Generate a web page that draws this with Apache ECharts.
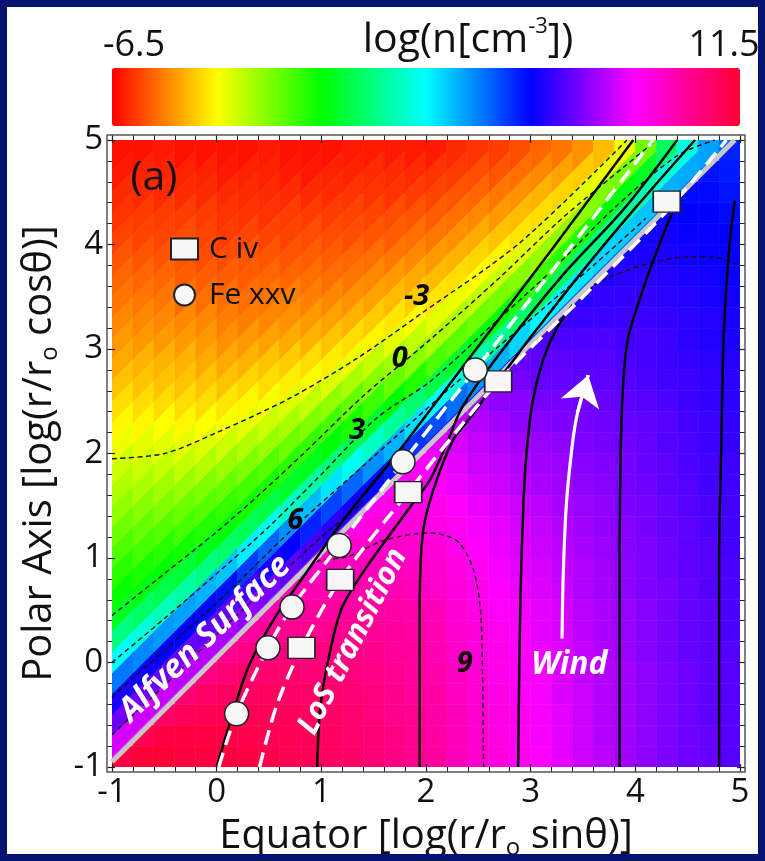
<!DOCTYPE html>
<html><head><meta charset="utf-8">
<script src="https://cdn.jsdelivr.net/npm/echarts/dist/echarts.min.js"></script>
<style>html,body{margin:0;padding:0;background:#fff}#c{width:765px;height:861px}</style>
</head><body><div id="c"></div><script>
// ---------- data ----------
const xCells = [-0.9,-0.7,-0.5,-0.3,-0.1,0.1,0.3,0.5,0.7,0.9,1.1,1.3,1.5,1.7,1.9,2.1,2.3,2.5,2.7,2.9,3.1,3.3,3.5,3.7,3.9,4.1,4.3,4.5,4.7,4.9];
const yCells = [-0.9,-0.7,-0.5,-0.3,-0.1,0.1,0.3,0.5,0.7,0.9,1.1,1.3,1.5,1.7,1.9,2.1,2.3,2.5,2.7,2.9,3.1,3.3,3.5,3.7,3.9,4.1,4.3,4.5,4.7,4.9];
// above the Alfven surface: column i holds cells from the diagonal upward
const upperField = [
 [8.5,8.0,6.8,5.8,4.1,2.4,1.0,-0.1,-0.6,-1.0,-1.4,-1.8,-2.2,-2.6,-2.9,-3.3,-3.6,-3.9,-4.2,-4.5,-4.7,-4.9,-5.1,-5.3,-5.5,-5.7,-5.9,-6.0,-6.2,-6.3],
 [8.4,7.9,6.8,5.7,3.9,2.1,0.7,-0.3,-0.8,-1.3,-1.7,-2.1,-2.5,-2.9,-3.2,-3.6,-3.9,-4.2,-4.4,-4.7,-4.9,-5.1,-5.3,-5.5,-5.7,-5.8,-6.0,-6.1,-6.3],
 [8.3,7.8,6.7,5.6,3.7,1.7,0.4,-0.5,-1.0,-1.5,-2.0,-2.4,-2.8,-3.2,-3.5,-3.9,-4.2,-4.4,-4.7,-4.9,-5.1,-5.3,-5.5,-5.7,-5.8,-6.0,-6.1,-6.2],
 [8.1,7.7,6.7,5.5,3.6,1.4,0.1,-0.7,-1.3,-1.8,-2.3,-2.8,-3.2,-3.6,-3.9,-4.2,-4.4,-4.7,-4.9,-5.2,-5.4,-5.5,-5.6,-5.8,-6.0,-6.1,-6.3],
 [8.0,7.6,6.6,5.4,3.4,1.0,-0.2,-0.9,-1.5,-2.0,-2.6,-3.1,-3.5,-3.9,-4.2,-4.5,-4.7,-4.9,-5.2,-5.4,-5.6,-5.7,-5.8,-6.0,-6.1,-6.3],
 [7.9,7.5,6.6,5.3,3.2,0.7,-0.5,-1.1,-1.7,-2.3,-2.9,-3.4,-3.8,-4.2,-4.5,-4.8,-5.0,-5.2,-5.4,-5.6,-5.8,-5.9,-6.0,-6.2,-6.3],
 [7.7,7.2,6.2,4.8,2.7,0.5,-0.7,-1.3,-2.0,-2.6,-3.2,-3.6,-4.0,-4.4,-4.7,-5.0,-5.2,-5.4,-5.5,-5.7,-5.9,-6.0,-6.1,-6.3],
 [7.6,6.9,5.8,4.3,2.3,0.3,-0.8,-1.5,-2.3,-2.9,-3.4,-3.9,-4.2,-4.6,-4.9,-5.1,-5.3,-5.5,-5.7,-5.9,-6.0,-6.1,-6.2],
 [7.4,6.6,5.5,3.8,1.8,0.0,-1.0,-1.8,-2.5,-3.1,-3.7,-4.1,-4.5,-4.8,-5.0,-5.3,-5.5,-5.7,-5.8,-6.0,-6.2,-6.3],
 [7.3,6.3,5.1,3.3,1.4,-0.2,-1.1,-2.0,-2.8,-3.4,-3.9,-4.4,-4.7,-5.0,-5.2,-5.4,-5.6,-5.8,-6.0,-6.2,-6.3],
 [7.1,6.0,4.7,2.8,0.9,-0.4,-1.3,-2.2,-3.1,-3.7,-4.2,-4.6,-4.9,-5.2,-5.4,-5.6,-5.8,-6.0,-6.1,-6.3],
 [6.9,5.7,4.3,2.3,0.4,-0.8,-1.7,-2.5,-3.3,-3.9,-4.4,-4.8,-5.1,-5.3,-5.6,-5.7,-5.9,-6.1,-6.2],
 [6.7,5.4,3.8,1.8,0.0,-1.2,-2.1,-2.8,-3.6,-4.1,-4.6,-4.9,-5.2,-5.5,-5.7,-5.9,-6.0,-6.2],
 [6.5,5.2,3.4,1.3,-0.5,-1.7,-2.4,-3.2,-3.8,-4.3,-4.7,-5.1,-5.4,-5.6,-5.9,-6.0,-6.2],
 [6.3,4.9,2.9,0.8,-0.9,-2.1,-2.8,-3.5,-4.1,-4.5,-4.9,-5.2,-5.5,-5.8,-6.0,-6.2],
 [6.1,4.6,2.5,0.3,-1.4,-2.5,-3.2,-3.8,-4.3,-4.7,-5.1,-5.4,-5.7,-5.9,-6.2],
 [5.9,4.2,2.1,0.0,-1.6,-2.6,-3.3,-3.9,-4.4,-4.8,-5.2,-5.5,-5.8,-6.0],
 [5.7,3.8,1.6,-0.3,-1.8,-2.8,-3.5,-4.0,-4.5,-4.9,-5.3,-5.6,-5.9],
 [5.4,3.4,1.2,-0.6,-1.9,-2.9,-3.6,-4.2,-4.7,-5.1,-5.5,-5.8],
 [5.2,3.0,0.7,-0.9,-2.1,-3.1,-3.8,-4.3,-4.8,-5.2,-5.6],
 [5.0,2.6,0.3,-1.2,-2.3,-3.2,-3.9,-4.4,-4.9,-5.3],
 [4.9,2.7,0.6,-1.0,-2.2,-3.2,-4.0,-4.6,-5.1],
 [4.8,2.8,0.8,-0.8,-2.1,-3.2,-4.1,-4.8],
 [4.7,3.0,1.1,-0.5,-2.0,-3.3,-4.3],
 [4.6,3.1,1.3,-0.3,-1.9,-3.3],
 [4.5,3.2,1.6,-0.1,-1.8],
 [4.4,3.4,2.0,0.6],
 [4.4,3.5,2.1],
 [4.3,3.6],
 [4.2]
];
// below the Alfven surface: column i holds cells from the bottom up to the diagonal
const lowerField = [
 [11.2],
 [11.4,11.0],
 [11.4,11.2,10.7],
 [11.3,11.2,10.9,10.5],
 [11.3,11.2,11.0,10.7,10.3],
 [11.3,11.2,11.0,10.8,10.5,10.1],
 [11.2,11.1,11.0,10.8,10.6,10.3,9.9],
 [11.1,11.0,10.9,10.8,10.6,10.3,10.0,9.7],
 [11.0,11.0,10.9,10.7,10.6,10.4,10.1,9.8,9.5],
 [10.9,10.9,10.8,10.7,10.5,10.4,10.1,9.9,9.6,9.3],
 [10.8,10.8,10.7,10.6,10.5,10.3,10.1,9.9,9.7,9.4,9.1],
 [10.7,10.6,10.6,10.5,10.4,10.3,10.1,9.9,9.7,9.5,9.2,8.9],
 [10.5,10.5,10.4,10.4,10.3,10.2,10.0,9.9,9.7,9.5,9.3,9.0,8.8],
 [10.3,10.3,10.2,10.2,10.1,10.0,9.9,9.8,9.6,9.5,9.3,9.1,8.9,8.6],
 [10.1,10.1,10.1,10.0,9.9,9.9,9.8,9.7,9.5,9.4,9.2,9.1,8.9,8.7,8.5],
 [9.9,9.8,9.8,9.8,9.7,9.6,9.6,9.5,9.3,9.2,9.1,8.9,8.8,8.6,8.4,8.2],
 [9.5,9.5,9.5,9.4,9.4,9.3,9.2,9.1,9.0,8.9,8.8,8.7,8.5,8.3,8.2,8.0,7.8],
 [9.2,9.2,9.2,9.1,9.1,9.0,9.0,8.9,8.8,8.7,8.5,8.4,8.3,8.1,7.9,7.8,7.6,7.4],
 [9.0,8.9,8.9,8.9,8.8,8.8,8.7,8.6,8.5,8.4,8.3,8.2,8.1,7.9,7.8,7.6,7.4,7.2,7.0],
 [8.7,8.7,8.7,8.6,8.6,8.5,8.5,8.4,8.3,8.2,8.1,8.0,7.9,7.7,7.6,7.4,7.2,7.1,6.9,6.7],
 [8.5,8.4,8.4,8.4,8.4,8.3,8.2,8.2,8.1,8.0,7.9,7.8,7.7,7.5,7.4,7.3,7.1,6.9,6.7,6.6,6.4],
 [8.2,8.2,8.2,8.1,8.1,8.1,8.0,8.0,7.9,7.8,7.7,7.6,7.5,7.4,7.3,7.2,7.0,6.9,6.7,6.6,6.4,6.2],
 [7.9,7.9,7.9,7.9,7.8,7.8,7.7,7.7,7.6,7.6,7.5,7.4,7.3,7.2,7.1,7.0,6.9,6.8,6.6,6.5,6.4,6.2,6.0],
 [7.7,7.6,7.6,7.6,7.6,7.6,7.5,7.5,7.4,7.4,7.3,7.2,7.2,7.1,7.0,6.9,6.8,6.7,6.6,6.5,6.4,6.2,6.1,5.9],
 [7.4,7.4,7.4,7.4,7.4,7.3,7.3,7.3,7.2,7.2,7.1,7.1,7.0,6.9,6.9,6.8,6.7,6.6,6.5,6.4,6.3,6.2,6.1,6.0,5.8],
 [7.2,7.2,7.2,7.2,7.2,7.1,7.1,7.1,7.0,7.0,7.0,6.9,6.9,6.8,6.7,6.7,6.6,6.5,6.4,6.3,6.3,6.2,6.1,6.0,5.8,5.7],
 [7.0,7.0,7.0,7.0,7.0,6.9,6.9,6.9,6.9,6.8,6.8,6.7,6.7,6.6,6.6,6.5,6.5,6.4,6.3,6.2,6.2,6.1,6.0,5.9,5.8,5.7,5.6],
 [6.8,6.8,6.8,6.8,6.8,6.7,6.7,6.7,6.7,6.6,6.6,6.6,6.5,6.5,6.4,6.4,6.3,6.2,6.2,6.1,6.0,6.0,5.9,5.8,5.7,5.6,5.5,5.4],
 [6.7,6.7,6.6,6.6,6.6,6.6,6.6,6.6,6.5,6.5,6.5,6.4,6.4,6.3,6.3,6.2,6.2,6.1,6.1,6.0,5.9,5.9,5.8,5.7,5.6,5.6,5.5,5.4,5.3],
 [6.5,6.5,6.5,6.5,6.5,6.5,6.4,6.4,6.4,6.4,6.3,6.3,6.3,6.2,6.2,6.1,6.1,6.0,6.0,5.9,5.8,5.8,5.7,5.6,5.6,5.5,5.4,5.3,5.2,5.1]
];
const colorRange = [-6.5, 11.5];
const axisRange = [-1, 5];
const alfvenLine = [[-1,-0.95],[4.95,5]];
// density contours (dashed)
const contourM3 = [[-1,1.95],[-0.5,2.0],[0,2.2],[0.7,2.53],[1.34,2.91],[1.97,3.35],[2.9,4.02],[3.92,5.0]];
const contour0 = [[-1,0.45],[-0.5,0.85],[0,1.25],[0.4,1.6],[0.83,2.0],[1.4,2.55],[2.04,3.09],[2.7,3.68],[3.3,4.25],[3.9,4.75],[4.2,5.0]];
const contour3 = [[-1,0.0],[-0.5,0.42],[0,0.85],[0.5,1.3],[1.0,1.8],[1.53,2.34],[2.04,2.69],[2.6,3.2],[3.2,3.75],[3.8,4.35],[4.4,4.85],[4.76,5.0]];
const contour6 = [[-1,-0.33],[-0.5,0.12],[0,0.57],[0.75,1.3],[1.5,1.97],[2.2,2.6],[2.9,3.2],[3.6,3.8],[4.1,4.25]];
const contourHigh = [[-1,-0.69],[-0.5,-0.22],[0,0.27],[0.5,0.74],[1.0,1.2],[1.4,1.53]];
const contour9 = [[0.95,0.97],[1.27,1.02],[1.6,1.17],[2.04,1.24],[2.3,1.16],[2.45,0.9],[2.52,0.5],[2.54,-0.1],[2.55,-1]];
const contourArc = [[2.85,2.88],[3.06,3.08],[3.63,3.62],[4.17,3.83],[4.5,3.88],[4.74,3.88],[4.95,3.82],[5.0,3.8]];
// field lines (solid black)
const field1 = [[0.0,-1],[0.12,-0.6],[0.3,-0.05],[0.55,0.42],[0.85,0.85],[1.2,1.35],[1.7,1.97],[2.48,3.0],[3.2,3.95],[3.98,5.0]];
const field2 = [[0.96,-1],[0.99,-0.43],[1.08,0.09],[1.2,0.53],[1.43,0.91],[1.85,1.49],[2.04,1.75],[2.2,2.1],[2.35,2.45],[2.7,2.95],[3.3,3.7],[3.9,4.35],[4.4,5.0]];
const field3 = [[1.94,-1],[1.94,0.5],[1.97,1.24],[2.07,1.65],[2.26,2.13],[2.42,2.34],[2.61,2.6],[2.75,2.78],[2.99,3.1],[3.5,3.75],[4.0,4.35],[4.57,5.0]];
const field4 = [[2.88,-1],[2.9,0.5],[2.93,1.5],[2.96,2.0],[3.02,2.5],[3.12,2.9],[3.25,3.2],[3.4,3.42]];
const field5 = [[3.85,-1],[3.85,1.0],[3.86,2.0],[3.88,2.6],[3.93,3.1],[4.1,3.65],[4.25,4.05],[4.35,4.3]];
const field6 = [[4.8,-1],[4.8,1.0],[4.82,2.0],[4.84,3.0],[4.87,3.6],[4.91,4.1],[4.95,4.42]];
// line-of-sight transition (white dashed)
const losFe = [[0.02,-1],[0.19,-0.49],[0.49,0.14],[0.72,0.53],[1.17,1.12],[1.78,1.92],[2.47,2.8],[3.3,3.87],[4.17,5.0]];
const losC = [[0.41,-1],[0.57,-0.42],[0.81,0.14],[1.18,0.79],[1.83,1.63],[2.69,2.69],[3.5,3.5],[4.3,4.32],[4.87,5.0]];
const windArrow = [[3.3,0.23],[3.31,0.8],[3.34,1.5],[3.4,2.1],[3.45,2.4],[3.55,2.75]];
// markers
const civPoints = [[0.81,0.14],[1.18,0.79],[1.83,1.63],[2.69,2.69],[4.3,4.41]];
const fePoints = [[0.19,-0.49],[0.49,0.14],[0.72,0.53],[1.17,1.12],[1.78,1.92],[2.47,2.8]];
const seriesNames = ['C iv','Fe xxv'];
// text
const contourLabelText = ['-3','0','3','6','9'];
const contourLabelPos = [[1.91,3.5],[1.75,2.91],[1.34,2.22],[0.75,1.36],[2.37,-0.01]];
const panelLabel = '(a)';
const panelLabelPos = [-0.6,4.63];
const regionLabelText = ['Alfven Surface','LoS transition','Wind'];
const regionLabelPos = [[-0.11,0.23],[1.3,0.2],[3.37,-0.02]];
const xTitle = 'Equator [log(r/r{sub|o} sinθ)]';
const yTitle = 'Polar Axis [log(r/r{sub|o} cosθ)]';
const cbarTitle = '{m|log(n[cm}{s|-3}{m|])}';
const cbarMinText = '-6.5', cbarMaxText = '11.5';

// ---------- build ----------
const FONT = '"Open Sans","Noto Sans",sans-serif';
const hx = (xCells[1]-xCells[0])/2, hy = (yCells[1]-yCells[0])/2;
const A = (alfvenLine[1][1]-alfvenLine[0][1])/(alfvenLine[1][0]-alfvenLine[0][0]);
const B = alfvenLine[0][1]-A*alfvenLine[0][0];
const surf = x => A*x+B;
function clipBelow(poly){
  const f = p => p[1]-surf(p[0]);
  const out=[];
  for(let i=0;i<poly.length;i++){
    const P=poly[i],Q=poly[(i+1)%poly.length];
    const fp=f(P),fq=f(Q);
    if(fp<=0) out.push(P);
    if((fp<0&&fq>0)||(fp>0&&fq<0)){const t=fp/(fp-fq);out.push([P[0]+t*(Q[0]-P[0]),P[1]+t*(Q[1]-P[1])]);}
  }
  return out;
}
// cells above the surface follow the surface (sheared cells), cells below are squares cut by the surface
function upperRender(params, api){
  const x=api.value(0), y=api.value(1), last=api.value(3);
  const d=y-surf(x);
  const dLo=Math.max(0,d-hy), dHi=d+hy+(last?2*hy:0);
  const x0=x-hx, x1=x+hx;
  const poly=[[x0,surf(x0)+dLo],[x1,surf(x1)+dLo],[x1,surf(x1)+dHi],[x0,surf(x0)+dHi]];
  const c=api.visual('color');
  return {type:'polygon', shape:{points:poly.map(p=>api.coord(p))}, style:{fill:c, stroke:c, lineWidth:0.6}};
}
function lowerRender(params, api){
  const x=api.value(0), y=api.value(1);
  const poly=clipBelow([[x-hx,y-hy],[x+hx,y-hy],[x+hx,y+hy],[x-hx,y+hy]]);
  if(poly.length<3) return null;
  const c=api.visual('color');
  return {type:'polygon', shape:{points:poly.map(p=>api.coord(p))}, style:{fill:c, stroke:c, lineWidth:0.6}};
}
const upperData=[], lowerData=[];
upperField.forEach((col,i)=>col.forEach((v,k)=>upperData.push([xCells[i], yCells[i+k], v, k===col.length-1?1:0])));
lowerField.forEach((col,i)=>col.forEach((v,j)=>lowerData.push([xCells[i], yCells[j], v])));

function ln(data, color, width, type, z, smooth){
  return {type:'line', data, showSymbol:false, symbol:'none', smooth:smooth===undefined?0.3:smooth, silent:true,
    lineStyle:{color, width, type}, z, animation:false, emphasis:{disabled:true}};
}
const dashC = [5,3.5];
const dashW = [15,8];
const labelBase = {show:true, position:'inside', formatter:'{b}', opacity:1, textBorderWidth:0, fontFamily:FONT};
const series = [
  {type:'custom', renderItem:upperRender, data:upperData, encode:{x:0,y:1}, z:1, silent:true, clip:true},
  {type:'custom', renderItem:lowerRender, data:lowerData, encode:{x:0,y:1}, z:2, silent:true, clip:true},
  ln(contourM3,'#111',1.4,dashC,5), ln(contour0,'#111',1.4,dashC,5), ln(contour3,'#111',1.4,dashC,5),
  ln(contour6,'#111',1.4,dashC,5), ln(contourHigh,'#111',1.4,dashC,5), ln(contour9,'#111',1.4,dashC,5),
  ln(contourArc,'#111',1.4,dashC,5),
  ln(alfvenLine,'#c8c8c8',5,'solid',6,0),
  ln(field1,'#000',2.5,'solid',7), ln(field2,'#000',2.5,'solid',7), ln(field3,'#000',2.5,'solid',7),
  ln(field4,'#000',2.5,'solid',7), ln(field5,'#000',2.5,'solid',7), ln(field6,'#000',2.5,'solid',7),
  ln(losFe,'#fff',3.5,dashW,8), ln(losC,'#fff',3.5,dashW,8),
  ln(windArrow,'#fff',3.2,'solid',9),
  {type:'lines', coordinateSystem:'cartesian2d', polyline:false, silent:true, z:9,
   data:[{coords:windArrow.slice(-2)}], lineStyle:{color:'#fff', width:3.2, opacity:1, curveness:0},
   symbol:['none','arrow'], symbolSize:30, effect:{show:false}},
  {type:'scatter', name:seriesNames[0], data:civPoints, symbol:'rect', symbolSize:[27,21], z:20,
   itemStyle:{color:'#f7f7f7', borderColor:'#222', borderWidth:1.5, opacity:1}},
  {type:'scatter', name:seriesNames[1], data:fePoints, symbol:'circle', symbolSize:24, z:20,
   itemStyle:{color:'#f7f7f7', borderColor:'#222', borderWidth:1.5, opacity:1}},
  {type:'scatter', silent:true, z:30, symbolSize:0, itemStyle:{opacity:1},
   data:contourLabelPos.map((p,i)=>({value:p, name:contourLabelText[i]})),
   label:Object.assign({}, labelBase, {color:'#000', fontSize:29, fontWeight:'bold', fontStyle:'italic'})},
  {type:'scatter', silent:true, z:30, symbolSize:0, itemStyle:{opacity:1},
   data:[{value:panelLabelPos, name:panelLabel}],
   label:Object.assign({}, labelBase, {color:'#111', fontSize:41})},
  {type:'scatter', silent:true, z:30, symbolSize:0, itemStyle:{opacity:1},
   data:regionLabelPos.map((p,i)=>({value:p, name:regionLabelText[i], label:{rotate:[44,63,0][i], fontSize:[33,31,32][i]}})),
   label:Object.assign({}, labelBase, {color:'#ffffff', fontWeight:'bold', fontStyle:'italic'})}
];

const tickStyle = {show:true, inside:true, length:8, lineStyle:{color:'#222', width:1.2}};
const minorStyle = {show:true, splitNumber:5, length:5, lineStyle:{color:'#222', width:1}};
const nameStyle = {fontSize:40, color:'#111', fontFamily:FONT, lineHeight:46,
  rich:{sub:{fontSize:24, color:'#111', fontFamily:FONT, verticalAlign:'bottom', lineHeight:30}}};
function ax(pos, labels, extra){
  return Object.assign({type:'value', min:axisRange[0], max:axisRange[1], interval:1, position:pos, offset:5, z:40,
    axisLine:{show:false, onZero:false}, axisTick:tickStyle, minorTick:minorStyle, splitLine:{show:false}, minorSplitLine:{show:false},
    axisLabel:{show:labels, fontSize:33, color:'#111', fontFamily:FONT, margin:4}}, extra||{});
}
const option = {
  animation:false,
  backgroundColor:'#ffffff',
  grid:{left:112, right:25, top:140, bottom:94, containLabel:false, outerBoundsMode:'none'},
  xAxis:[
    ax('bottom', true, {name:xTitle, nameLocation:'middle', nameGap:27, nameTextStyle:nameStyle}),
    ax('top', false)
  ],
  yAxis:[
    ax('left', true, {name:yTitle, nameLocation:'middle', nameGap:43, nameRotate:90, nameTextStyle:nameStyle}),
    ax('right', false)
  ],
  visualMap:{type:'continuous', min:colorRange[0], max:colorRange[1], dimension:2, seriesIndex:[0,1],
    orient:'horizontal', left:112, top:68, itemWidth:58, itemHeight:628, padding:0,
    calculable:false, hoverLink:false, realtime:false, text:null,
    inRange:{color:['#ff0000','#ffff00','#00ff00','#00ffff','#0000ff','#ff00ff','#ff0030']}},
  legend:{data:[{name:seriesNames[0], icon:'rect'},{name:seriesNames[1], icon:'circle'}],
    orient:'vertical', left:170, top:233, itemWidth:27, itemHeight:21, itemGap:14, padding:0,
    selectedMode:false, textStyle:{fontSize:30, lineHeight:32, color:'#111', fontFamily:FONT, padding:[0,0,0,6]}},
  graphic:[
    {type:'rect', shape:{x:107, y:135, width:638, height:637}, style:{fill:null, stroke:'#555', lineWidth:1.5}, z:50, silent:true},
    {type:'text', x:134, y:46, style:{text:cbarMinText, font:'36px '+FONT, fill:'#111', align:'center', verticalAlign:'middle'}, silent:true},
    {type:'text', x:724, y:46, style:{text:cbarMaxText, font:'36px '+FONT, fill:'#111', align:'center', verticalAlign:'middle'}, silent:true},
    {type:'text', x:468, y:40, style:{text:cbarTitle, align:'center', verticalAlign:'middle',
      rich:{m:{fontSize:41, fontFamily:FONT, fill:'#111', lineHeight:48}, s:{fontSize:22, fontFamily:FONT, fill:'#111', verticalAlign:'top', lineHeight:32}}}, silent:true},
    {type:'rect', shape:{x:3.5, y:3.5, width:758, height:854}, style:{fill:null, stroke:'#04136f', lineWidth:7}, z:60, silent:true}
  ],
  series
};
const chart = echarts.init(document.getElementById('c'), null, {renderer:'canvas'});
chart.setOption(option);
</script></body></html>
